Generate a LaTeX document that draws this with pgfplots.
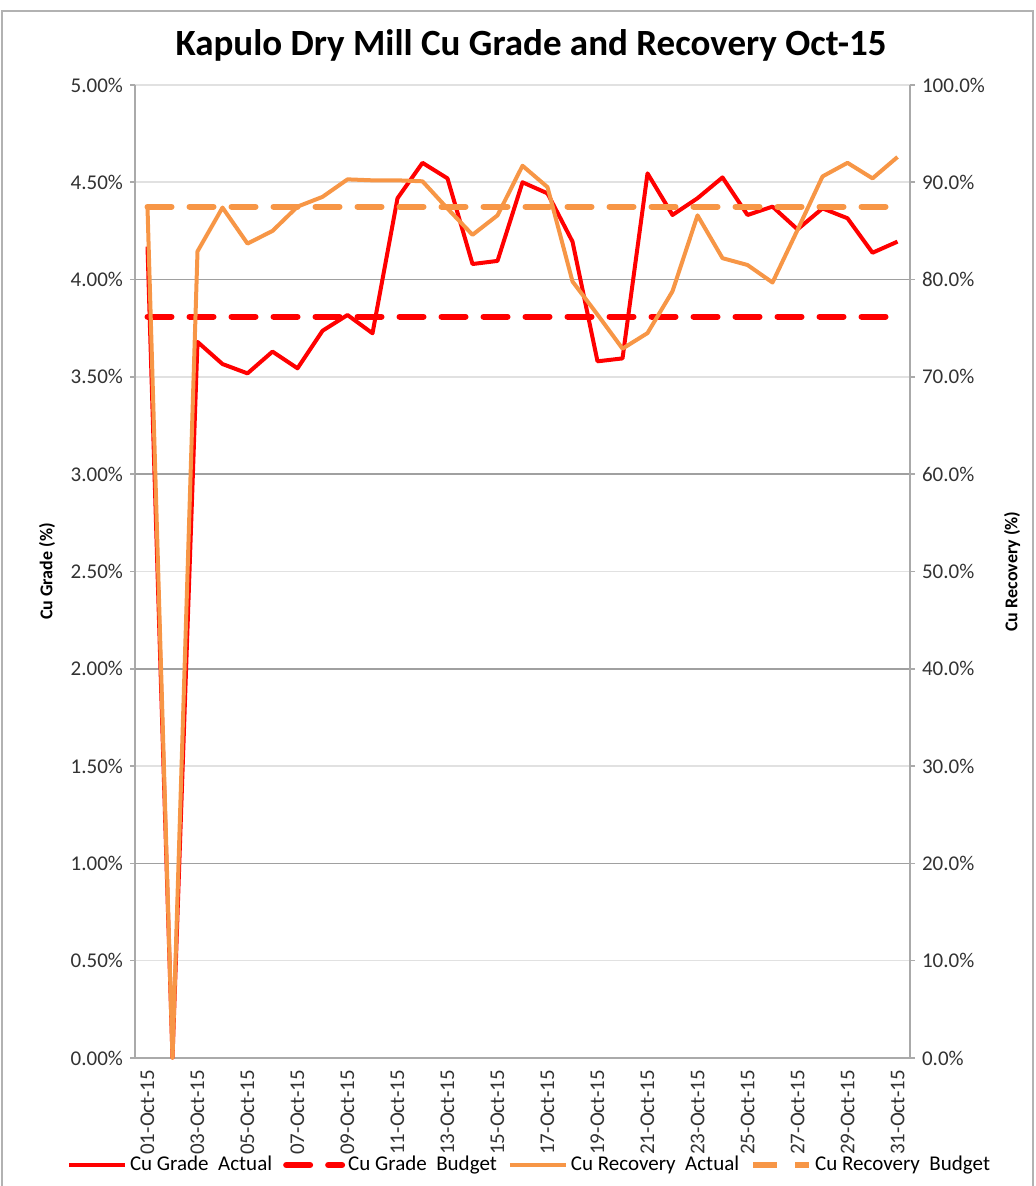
\documentclass[border=0pt]{standalone}
\usepackage{pgfplots}
\pgfplotsset{compat=1.18}
\usepackage{fontspec}
\setmainfont{Carlito}
\definecolor{cured}{RGB}{255,0,0}
\definecolor{cuorange}{RGB}{247,150,70}
\definecolor{gridlight}{RGB}{225,225,225}
\definecolor{griddark}{RGB}{160,160,160}
\definecolor{axisgray}{RGB}{170,170,170}
\definecolor{ticktext}{RGB}{50,50,50}
\pgfplotsset{
  common/.style={
    scale only axis, width=387.5pt, height=486.5pt,
    at={(67.5pt,64pt)}, anchor=south west,
    xmin=0.5, xmax=31.5,
    tick align=outside, major tick length=2.5pt, minor tick length=2.5pt,
    axis line style={-, axisgray, line width=0.8pt},
    tick style={axisgray, line width=0.8pt},
    /pgf/number format/assume math mode=true,
    ticklabel style={font=\fontsize{10.5}{12}\selectfont, text=ticktext},
    clip=false,
  },
  legend image code/.code={\draw[#1] (0pt,0pt) -- (28pt,0pt);},
}
\begin{document}
\begin{tikzpicture}
\path[use as bounding box] (0,0) rectangle (517.5pt,593pt);
\draw[gray!60, line width=1pt] (0.75pt,0) -- (0.75pt,587.5pt) -- (516.5pt,587.5pt) -- (516.5pt,0);
\node[font=\bfseries\fontsize{18.5}{22}\selectfont] at (265.5pt,570.5pt) {Kapulo Dry Mill Cu Grade and Recovery Oct-15};
\node[rotate=90, font=\bfseries\fontsize{9}{11}\selectfont] at (23.5pt,307.25pt) {Cu Grade (\%)};
\node[rotate=90, font=\bfseries\fontsize{9}{11}\selectfont] at (506pt,307.25pt) {Cu Recovery (\%)};
\begin{axis}[common,
  axis x line*=bottom, axis y line*=left,
  ymin=0, ymax=5,
  ytick={0,0.5,...,5},
  yticklabel={\pgfmathprintnumber[fixed,fixed zerofill,precision=2]{\tick}\%},
  ymajorgrids, major grid style={gridlight, line width=0.8pt},
  extra y ticks={1,2,3,4},
  extra y tick labels={},
  extra y tick style={grid=major, major grid style={griddark, line width=0.8pt}},
  xtick={1,3,...,31},
  xticklabels={01-Oct-15,03-Oct-15,05-Oct-15,07-Oct-15,09-Oct-15,11-Oct-15,13-Oct-15,15-Oct-15,17-Oct-15,19-Oct-15,21-Oct-15,23-Oct-15,25-Oct-15,27-Oct-15,29-Oct-15,31-Oct-15},
  x tick style={draw=none},
  minor xtick={0.5,2.5,...,30.5},
  minor x tick style={axisgray, line width=0.8pt},
  xticklabel style={rotate=90, anchor=east},
  legend columns=4,
  legend style={at={(0.5097,-0.11)}, anchor=center, draw=none, fill=none,
    font=\fontsize{10.5}{12}\selectfont,
    nodes={inner xsep=1.5pt},
    /tikz/every even column/.append style={column sep=4pt},
    /tikz/every odd column/.append style={column sep=0pt}},
  legend cell align=left,
]
\addplot[cured, line width=2pt, line join=round] coordinates {
(1,4.17) (2,0.00) (3,3.68) (4,3.566) (5,3.518) (6,3.63) (7,3.544) (8,3.737)
(9,3.818) (10,3.724) (11,4.418) (12,4.60) (13,4.52) (14,4.08) (15,4.096) (16,4.50)
(17,4.443) (18,4.195) (19,3.58) (20,3.595) (21,4.546) (22,4.332) (23,4.418) (24,4.525)
(25,4.332) (26,4.375) (27,4.258) (28,4.366) (29,4.315) (30,4.138) (31,4.195)};
\addlegendentry{Cu Grade\ \ Actual}
\addplot[cured, line width=3pt, dash pattern=on 12pt off 9pt, line cap=round] coordinates {(1,3.81) (31,3.81)};
\addlegendentry{Cu Grade\ \ Budget}
\addlegendimage{cuorange, line width=2pt}
\addlegendentry{Cu Recovery\ \ Actual}
\addlegendimage{cuorange, line width=3pt, dash pattern=on 12pt off 9pt}
\addlegendentry{Cu Recovery\ \ Budget}
\end{axis}
\begin{axis}[common,
  axis x line=none, axis y line*=right,
  ymin=0, ymax=100,
  ytick={0,10,...,100},
  yticklabel={\pgfmathprintnumber[fixed,fixed zerofill,precision=1]{\tick}\%},
]
\addplot[cuorange, line width=2pt, line join=round] coordinates {
(1,87.4) (2,0) (3,82.9) (4,87.4) (5,83.7) (6,85.0) (7,87.5) (8,88.5)
(9,90.3) (10,90.2) (11,90.2) (12,90.1) (13,87.3) (14,84.6) (15,86.6) (16,91.7)
(17,89.5) (18,79.8) (19,76.4) (20,72.9) (21,74.5) (22,78.8) (23,86.6) (24,82.2)
(25,81.5) (26,79.7) (27,85.1) (28,90.6) (29,92.0) (30,90.4) (31,92.6)};
\addplot[cuorange, line width=3pt, dash pattern=on 12pt off 9pt, line cap=round] coordinates {(1,87.5) (31,87.5)};
\end{axis}
\end{tikzpicture}
\end{document}
